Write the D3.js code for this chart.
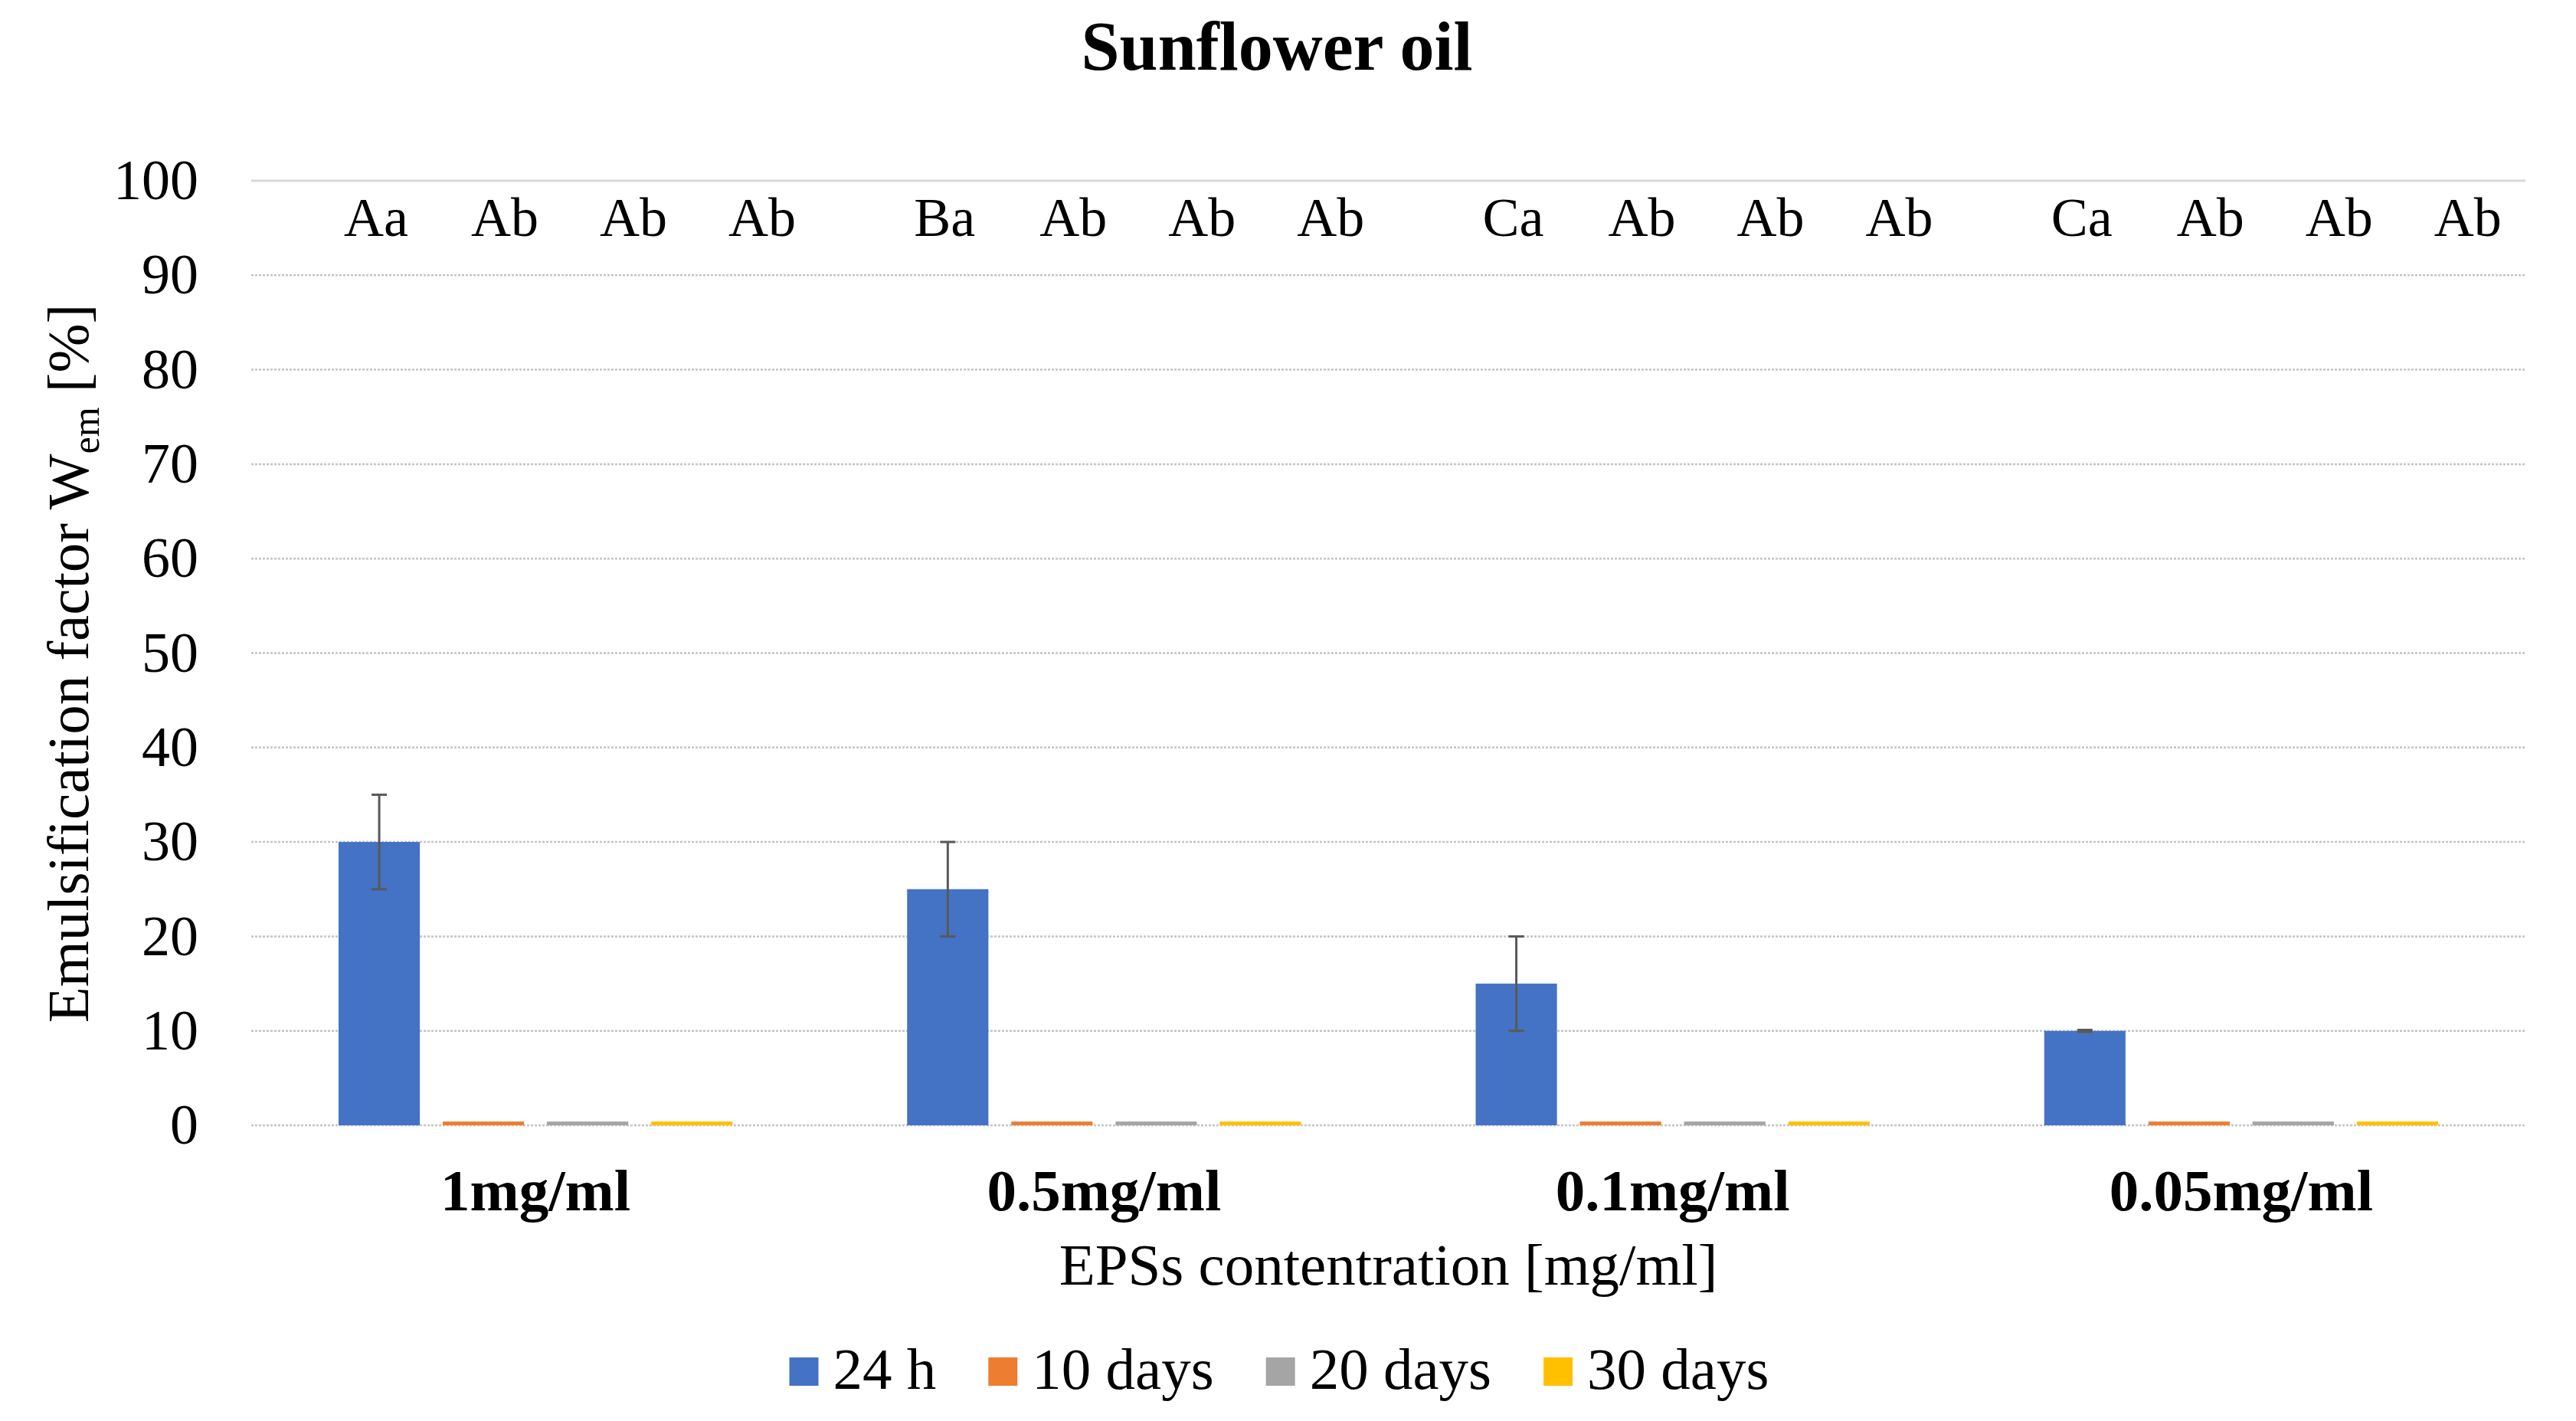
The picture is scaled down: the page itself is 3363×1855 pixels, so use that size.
<!DOCTYPE html>
<html lang="en">
<head>
<meta charset="UTF-8">
<title>Sunflower oil</title>
<script src="https://d3js.org/d3.v7.min.js"></script>
<style>
  body { margin: 0; background: #fff; }
  svg { display: block; }
</style>
</head>
<body>
<svg id="chart" width="3363" height="1855"></svg>
<script>
  // data
  const categories = ["1mg/ml", "0.5mg/ml", "0.1mg/ml", "0.05mg/ml"];
  const series = ["24 h", "10 days", "20 days", "30 days"];
  const colors = ["#4472C4", "#ED7D31", "#A5A5A5", "#FFC000"];
  const values24h = [30, 25, 15, 10];
  const values10d = [0.4, 0.4, 0.4, 0.4];
  const values20d = [0.4, 0.4, 0.4, 0.4];
  const values30d = [0.4, 0.4, 0.4, 0.4];
  const errors24h = [5, 5, 5, 0.1];
  const letters = [
    ["Aa", "Ab", "Ab", "Ab"],
    ["Ba", "Ab", "Ab", "Ab"],
    ["Ca", "Ab", "Ab", "Ab"],
    ["Ca", "Ab", "Ab", "Ab"]
  ];
  const yTicks = [0, 10, 20, 30, 40, 50, 60, 70, 80, 90, 100];

  const allValues = [values24h, values10d, values20d, values30d];
  const allErrors = [errors24h, null, null, null];

  const FONT = "Liberation Serif";
  const svg = d3.select("#chart");
  const plotL = 328, plotR = 3297, plotT = 236, plotB = 1469;

  const y = d3.scaleLinear().domain([0, 100]).range([plotB, plotT]);
  const x0 = d3.scaleBand().domain(categories).range([plotL, plotR]);
  const x1 = d3.scaleBand().domain(series).range([0, x0.bandwidth()])
    .paddingInner(0.22).paddingOuter(0.838);
  // letters are placed by hand in the original, not on the bars
  const xl = d3.scalePoint().domain(series).range([163, 667]);

  // gridlines
  svg.append("g").selectAll("line")
    .data(yTicks)
    .enter().append("line")
    .attr("x1", plotL).attr("x2", plotR)
    .attr("y1", d => y(d)).attr("y2", d => y(d))
    .attr("stroke", d => d === 100 ? "#D9D9D9" : "#C4C4C4")
    .attr("stroke-width", d => d === 100 ? 3 : 2.5)
    .attr("stroke-dasharray", d => d === 100 ? null : "3,2");

  // y axis labels
  const yAxis = svg.append("g")
    .attr("transform", `translate(${plotL},0)`)
    .call(d3.axisLeft(y).tickValues(yTicks).tickSize(0).tickPadding(69));
  yAxis.select(".domain").remove();
  yAxis.selectAll("text")
    .attr("font-size", 74)
    .attr("fill", "#000");

  // bars
  const groups = svg.append("g").selectAll("g")
    .data(categories)
    .enter().append("g")
    .attr("transform", d => `translate(${x0(d)},0)`);

  groups.selectAll("rect")
    .data((c, ci) => series.map((s, si) => ({ s, si, v: allValues[si][ci] })))
    .enter().append("rect")
    .attr("x", d => x1(d.s))
    .attr("width", x1.bandwidth())
    .attr("y", d => y(d.v))
    .attr("height", d => y(0) - y(d.v))
    .attr("fill", d => colors[d.si]);

  // error bars
  const errData = [];
  categories.forEach((c, ci) => {
    series.forEach((s, si) => {
      if (allErrors[si]) errData.push({ c, s, v: allValues[si][ci], e: allErrors[si][ci] });
    });
  });
  const eb = svg.append("g").attr("stroke", "#595959").attr("stroke-width", 3);
  errData.forEach(d => {
    const cx = x0(d.c) + x1(d.s) + x1.bandwidth() / 2;
    eb.append("line").attr("x1", cx).attr("x2", cx)
      .attr("y1", y(d.v + d.e)).attr("y2", y(d.v - d.e));
    [d.v + d.e, d.v - d.e].forEach(v => {
      eb.append("line").attr("x1", cx - 10).attr("x2", cx + 10)
        .attr("y1", y(v)).attr("y2", y(v));
    });
  });

  // significance letters
  const letterLevel = 94.2;
  groups.selectAll("text.letter")
    .data((c, ci) => series.map((s, si) => ({ s, t: letters[ci][si] })))
    .enter().append("text")
    .attr("class", "letter")
    .attr("x", d => xl(d.s))
    .attr("y", y(letterLevel))
    .attr("text-anchor", "middle")
    .attr("font-size", 72)
    .text(d => d.t);

  // category labels
  svg.append("g").selectAll("text")
    .data(categories)
    .enter().append("text")
    .attr("x", d => x0(d) + x0.bandwidth() / 2)
    .attr("y", 1580)
    .attr("text-anchor", "middle")
    .attr("font-size", 77)
    .style("font-weight", "bold")
    .text(d => d);

  // title
  svg.append("text")
    .attr("x", 1667).attr("y", 91)
    .attr("text-anchor", "middle")
    .attr("font-size", 90)
    .style("font-weight", "bold")
    .text("Sunflower oil");

  // x axis title
  svg.append("text")
    .attr("x", (plotL + plotR) / 2).attr("y", 1677)
    .attr("text-anchor", "middle")
    .attr("font-size", 77)
    .text("EPSs contentration [mg/ml]");

  // y axis title
  const yt = svg.append("text")
    .attr("transform", "translate(115,866) rotate(-90)")
    .attr("text-anchor", "middle")
    .attr("font-size", 77);
  yt.append("tspan").text("Emulsification factor W");
  yt.append("tspan").attr("font-size", 50).attr("dy", 14).text("em");
  yt.append("tspan").attr("dy", -14).text(" [%]");

  // all text in the serif face, set inline so nothing overrides it
  svg.selectAll("text").style("font-family", FONT);

  // legend
  const legend = svg.append("g");
  let lx = 0;
  series.forEach((s, i) => {
    const g = legend.append("g").attr("transform", `translate(${lx},0)`);
    g.append("rect").attr("x", 0).attr("y", 1772).attr("width", 38).attr("height", 37)
      .attr("fill", colors[i]);
    const t = g.append("text").attr("x", 57).attr("y", 1813)
      .attr("font-size", 77).style("font-family", FONT).text(s);
    lx += 57 + t.node().getComputedTextLength() + 68;
  });
  const legendW = lx - 68;
  legend.attr("transform", `translate(${1670 - legendW / 2},0)`);
</script>
</body>
</html>
